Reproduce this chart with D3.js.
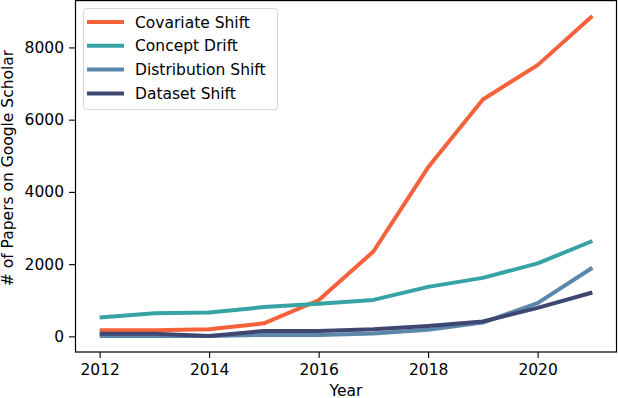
<!DOCTYPE html>
<html>
<head>
<meta charset="utf-8">
<script src="https://cdn.jsdelivr.net/npm/d3@7"></script>
<style>
  body { margin: 0; background: #fff; }
  text { font-family: "DejaVu Sans", sans-serif; }
</style>
</head>
<body>
<div id="chart-area"></div>
<script>
// data
var years = [2012, 2013, 2014, 2015, 2016, 2017, 2018, 2019, 2020, 2021];
var covariateShift = [170, 170, 200, 360, 1000, 2350, 4680, 6560, 7510, 8870];
var conceptDrift = [520, 640, 660, 810, 900, 1010, 1370, 1620, 2020, 2640];
var distributionShift = [10, 10, 10, 40, 40, 80, 180, 380, 920, 1900];
var datasetShift = [70, 70, 10, 150, 150, 200, 290, 410, 790, 1215];
var seriesNames = ["Covariate Shift", "Concept Drift", "Distribution Shift", "Dataset Shift"];
var xTicks = [2012, 2014, 2016, 2018, 2020];
var yTicks = [0, 2000, 4000, 6000, 8000];

var colors = ["#f4613a", "#38a3a4", "#5b87ab", "#3f4672"];
var series = [covariateShift, conceptDrift, distributionShift, datasetShift];

var W = 618, H = 398;
var plotLeft = 75, plotRight = 617, plotTop = 0, plotBottom = 352;

var svg = d3.select("#chart-area")
  .append("svg")
  .attr("width", W)
  .attr("height", H);

// matplotlib style 5% margins
var xPad = (d3.max(years) - d3.min(years)) * 0.05;
var x = d3.scaleLinear()
  .domain([d3.min(years) - xPad, d3.max(years) + xPad])
  .range([plotLeft, plotRight]);

var allVals = d3.merge(series);
var yMin = d3.min(allVals), yMax = d3.max(allVals);
var yPad = (yMax - yMin) * 0.05;
var y = d3.scaleLinear()
  .domain([yMin - yPad, yMax + yPad])
  .range([plotBottom, plotTop]);

// lines
var line = d3.line()
  .x((d, i) => x(years[i]))
  .y(d => y(d));

svg.selectAll("path.series")
  .data(series)
  .enter()
  .append("path")
  .attr("class", "series")
  .attr("d", d => line(d))
  .attr("fill", "none")
  .attr("stroke", (d, i) => colors[i])
  .attr("stroke-width", 4)
  .attr("stroke-linejoin", "round");

// axes
var xAxis = svg.append("g")
  .attr("transform", "translate(0," + plotBottom + ")")
  .call(d3.axisBottom(x).tickValues(xTicks).tickFormat(d3.format("d")).tickSize(6).tickPadding(6));

var yAxis = svg.append("g")
  .attr("transform", "translate(" + plotLeft + ",0)")
  .call(d3.axisLeft(y).tickValues(yTicks).tickFormat(d3.format("d")).tickSize(6).tickPadding(5));

[xAxis, yAxis].forEach(g => {
  g.select(".domain").remove();
  g.selectAll("line").attr("stroke", "#000").attr("stroke-width", 1.1);
  g.selectAll("text").attr("font-size", "15.5px").attr("fill", "#000")
    .style("font-family", "DejaVu Sans");
});

// frame
svg.append("rect")
  .attr("x", plotLeft + 0.5)
  .attr("y", plotTop + 0.6)
  .attr("width", plotRight - plotLeft - 1)
  .attr("height", plotBottom - plotTop - 0.6)
  .attr("fill", "none")
  .attr("stroke", "#000")
  .attr("stroke-width", 1.2);

// axis titles
svg.append("text")
  .attr("x", (plotLeft + plotRight) / 2)
  .attr("y", 396)
  .attr("text-anchor", "middle")
  .attr("font-size", "15.5px")
  .text("Year");

svg.append("text")
  .attr("transform", "translate(13," + ((plotTop + plotBottom) / 2 - 8) + ") rotate(-90)")
  .attr("text-anchor", "middle")
  .attr("font-size", "15.5px")
  .text("# of Papers on Google Scholar");

// legend
var legend = svg.append("g").attr("transform", "translate(83,8)");
legend.append("rect")
  .attr("x", 0.5)
  .attr("y", 0.5)
  .attr("width", 194)
  .attr("height", 101)
  .attr("rx", 3)
  .attr("fill", "#fff")
  .attr("fill-opacity", 0.8)
  .attr("stroke", "#d6d6d6")
  .attr("stroke-width", 1);

var item = legend.selectAll("g.item")
  .data(seriesNames)
  .enter()
  .append("g")
  .attr("class", "item")
  .attr("transform", (d, i) => "translate(0," + (14 + i * 23.8) + ")");

item.append("line")
  .attr("x1", 4)
  .attr("x2", 41)
  .attr("stroke", (d, i) => colors[i])
  .attr("stroke-width", 4);

item.append("text")
  .attr("x", 52)
  .attr("y", 5.5)
  .attr("font-size", "15.5px")
  .text(d => d);
</script>
</body>
</html>
